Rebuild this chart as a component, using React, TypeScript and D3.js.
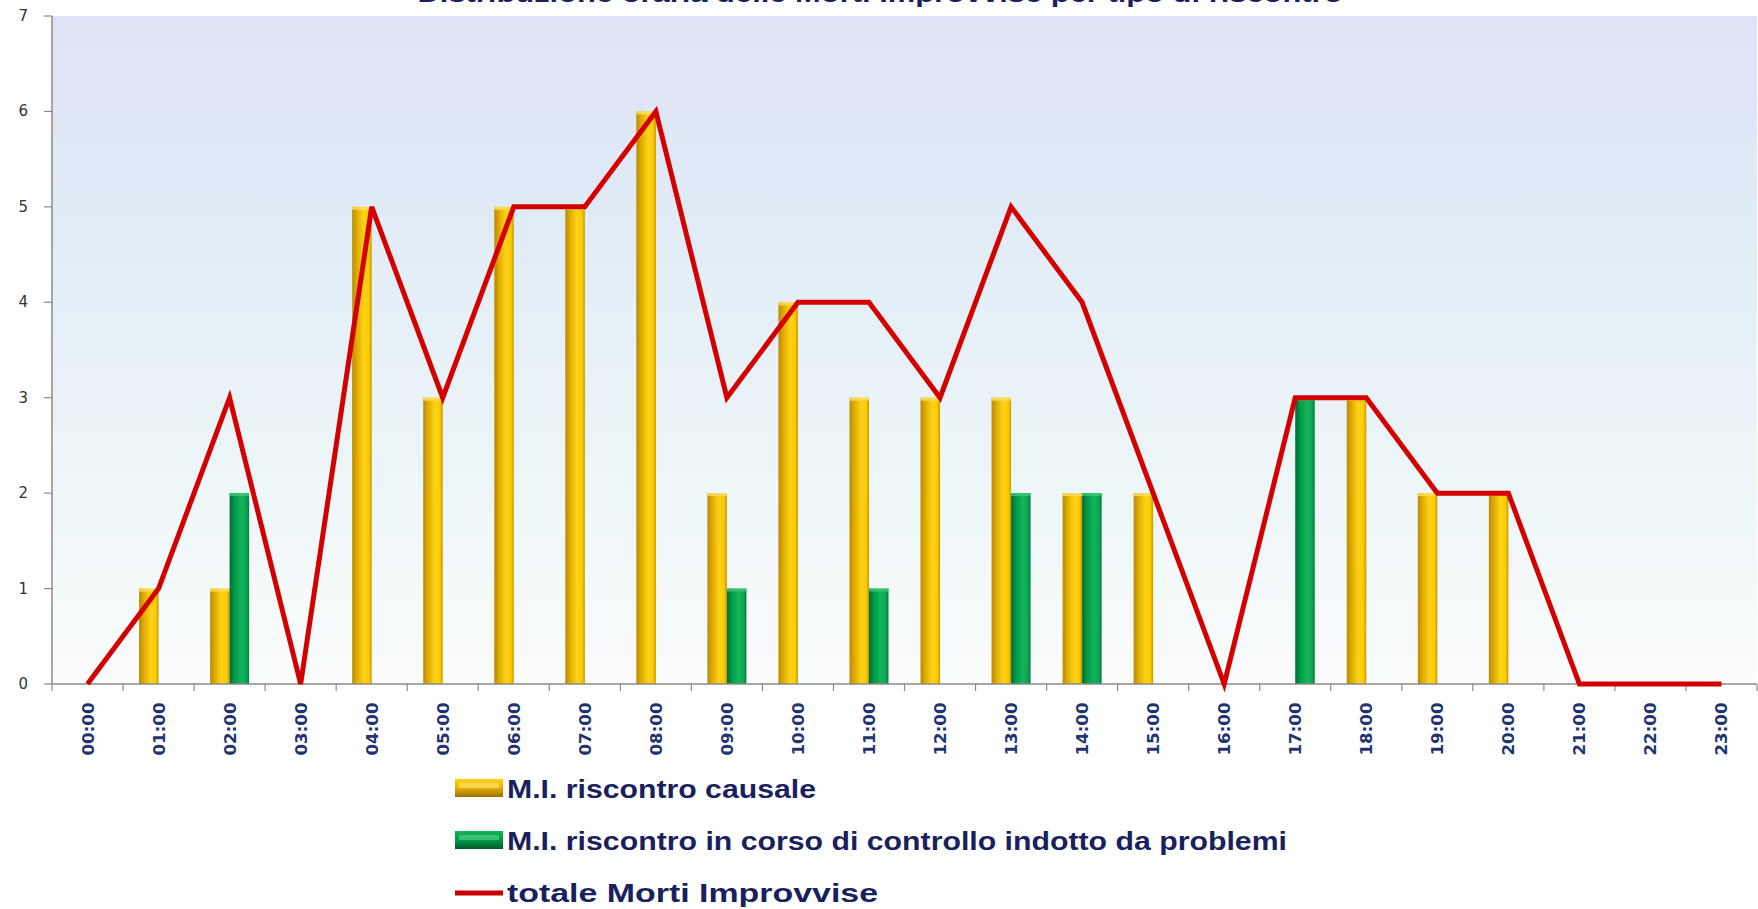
import React from "react";
import * as d3 from "d3";

const hours = ["00:00","01:00","02:00","03:00","04:00","05:00","06:00","07:00","08:00","09:00","10:00","11:00","12:00","13:00","14:00","15:00","16:00","17:00","18:00","19:00","20:00","21:00","22:00","23:00"];
const causale = [0,1,1,0,5,3,5,5,6,2,4,3,3,3,2,2,0,0,3,2,2,0,0,0];
const indotto = [0,0,2,0,0,0,0,0,0,1,0,1,0,2,2,0,0,3,0,0,0,0,0,0];
const totale = [0,1,3,0,5,3,5,5,6,3,4,4,3,5,4,2,0,3,3,2,2,0,0,0];
const yTicks = [0,1,2,3,4,5,6,7];
const legendLabels = [
  "M.I. riscontro causale",
  "M.I. riscontro in corso di controllo indotto da problemi",
  "totale Morti Improvvise",
];
const titleText = "Distribuzione oraria delle Morti Improvvise per tipo di riscontro";

const W = 1758, H = 909;
const left = 52, right = 1757, top = 16, bottom = 684;

export default function App() {
  const x = d3.scaleBand<string>().domain(hours).range([left, right]).paddingInner(0).paddingOuter(0);
  const y = d3.scaleLinear().domain([0, 7]).range([bottom, top]);
  const bw = 19.5;
  const cx = (h: string) => (x(h) as number) + x.bandwidth() / 2;
  const line = d3.line<number>().x((_, i) => cx(hours[i])).y((d) => y(d));
  const legendW = [309, 780, 371];

  return (
    <div style={{ position: "fixed", left: 0, top: 0, width: W, height: H, background: "#fff" }}>
      <svg width={W} height={H} style={{ display: "block" }}>
        <defs>
          <linearGradient id="bg" x1="0" y1="0" x2="0" y2="1">
            <stop offset="0" stopColor="#dde3f6" />
            <stop offset="0.35" stopColor="#e2edf6" />
            <stop offset="0.7" stopColor="#edf6f8" />
            <stop offset="1" stopColor="#fbfcfc" />
          </linearGradient>
          <linearGradient id="gy" x1="0" y1="0" x2="1" y2="0">
            <stop offset="0" stopColor="#b88a08" />
            <stop offset="0.25" stopColor="#e0ac00" />
            <stop offset="0.6" stopColor="#ffd21a" />
            <stop offset="0.85" stopColor="#ffcc00" />
            <stop offset="1" stopColor="#c89600" />
          </linearGradient>
          <linearGradient id="gg" x1="0" y1="0" x2="1" y2="0">
            <stop offset="0" stopColor="#006a34" />
            <stop offset="0.25" stopColor="#009a48" />
            <stop offset="0.6" stopColor="#14b45c" />
            <stop offset="0.85" stopColor="#0aa852" />
            <stop offset="1" stopColor="#007a3c" />
          </linearGradient>
          <linearGradient id="ly" x1="0" y1="0" x2="0" y2="1">
            <stop offset="0" stopColor="#ffd21a" />
            <stop offset="0.5" stopColor="#e8b000" />
            <stop offset="1" stopColor="#9a6e00" />
          </linearGradient>
          <linearGradient id="lg" x1="0" y1="0" x2="0" y2="1">
            <stop offset="0" stopColor="#14b45c" />
            <stop offset="0.5" stopColor="#009a48" />
            <stop offset="1" stopColor="#005a2c" />
          </linearGradient>
        </defs>

        <text x={880} y={2} textAnchor="middle" fontFamily="Liberation Sans, Arial, sans-serif" fontWeight="bold" fontSize={24} fill="#1a1f5e" textLength={925} lengthAdjust="spacingAndGlyphs">{titleText}</text>

        <rect x={left} y={top} width={right - left} height={bottom - top} fill="url(#bg)" />

        {/* y axis */}
        <line x1={left} x2={left} y1={top} y2={bottom} stroke="#8a8a8a" strokeWidth={1.5} />
        {yTicks.map((t) => (
          <g key={t}>
            <line x1={left - 8} x2={left} y1={y(t)} y2={y(t)} stroke="#8a8a8a" strokeWidth={1.2} />
            <text x={28} y={y(t) + 5} textAnchor="end" fontFamily="DejaVu Sans, sans-serif" fontSize={15} fill="#333">{t}</text>
          </g>
        ))}

        {/* bars */}
        {hours.map((h, i) => (
          <g key={h}>
            {causale[i] > 0 && (
              <g>
                <rect x={cx(h) - bw} y={y(causale[i])} width={bw} height={bottom - y(causale[i])} fill="url(#gy)" />
                <rect x={cx(h) - bw} y={y(causale[i])} width={bw} height={3} fill="#ffe066" opacity={0.8} />
              </g>
            )}
            {indotto[i] > 0 && (
              <g>
                <rect x={cx(h)} y={y(indotto[i])} width={bw} height={bottom - y(indotto[i])} fill="url(#gg)" />
                <rect x={cx(h)} y={y(indotto[i])} width={bw} height={3} fill="#3cc878" opacity={0.8} />
              </g>
            )}
          </g>
        ))}

        {/* x axis */}
        <line x1={left} x2={right} y1={bottom} y2={bottom} stroke="#8a8a8a" strokeWidth={1.5} />
        {d3.range(hours.length + 1).map((k) => {
          const xx = left + k * x.bandwidth();
          return <line key={k} x1={xx} x2={xx} y1={bottom} y2={bottom + 7} stroke="#8a8a8a" strokeWidth={1.2} />;
        })}
        {hours.map((h) => (
          <text key={h} transform={`translate(${cx(h) + 6},${729}) rotate(-90)`} textAnchor="middle" fontFamily="DejaVu Sans, sans-serif" fontWeight="bold" fontSize={16.5} fill="#1f3470" textLength={53} lengthAdjust="spacingAndGlyphs">{h}</text>
        ))}

        {/* total line */}
        <path d={line(totale) || ""} fill="none" stroke="#d40000" strokeWidth={5} strokeLinejoin="miter" />

        {/* legend */}
        <rect x={455} y={779} width={48} height={18} fill="url(#ly)" />
        <rect x={459} y={783} width={40} height={5} fill="#ffe066" opacity={0.7} />
        <rect x={455} y={831} width={48} height={18} fill="url(#lg)" />
        <rect x={459} y={835} width={40} height={5} fill="#5cd690" opacity={0.6} />
        <line x1={455} x2={503} y1={893} y2={893} stroke="#c80000" strokeWidth={5} />
        {legendLabels.map((l, i) => (
          <text key={l} x={507} y={798 + i * 52} fontFamily="Liberation Sans, Arial, sans-serif" fontWeight="bold" fontSize={26} fill="#1a1f5e" textLength={legendW[i]} lengthAdjust="spacingAndGlyphs">{l}</text>
        ))}
      </svg>
    </div>
  );
}
